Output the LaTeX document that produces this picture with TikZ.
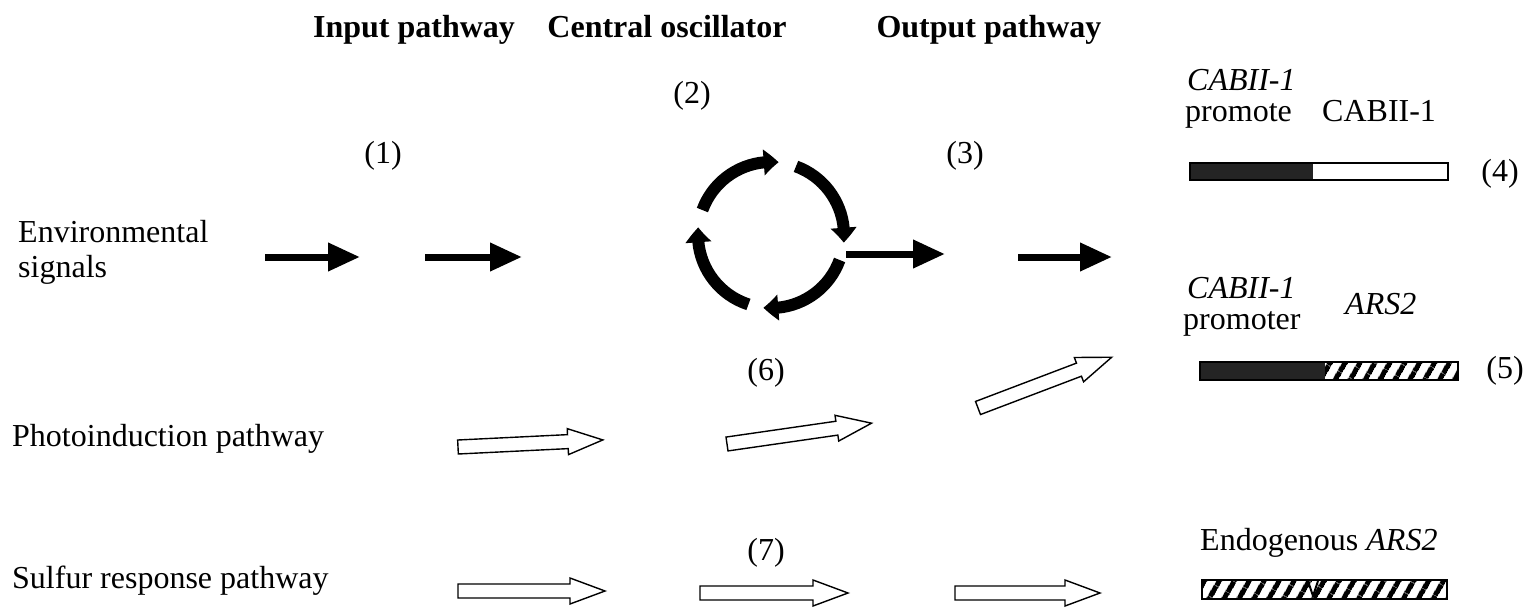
\documentclass[tikz,border=0pt]{standalone}
\usepackage{fontspec}
\setmainfont{Liberation Serif}
\usetikzlibrary{arrows.meta,bending,patterns.meta}
\newcommand\openarrow[3]{% start, angle, length
  \begin{scope}[shift={#1}, rotate=#2]
    \draw[oarr] (0,-7) -- ({#3-35},-7) -- ({#3-35},-13) -- (#3,0) -- ({#3-35},13) -- ({#3-35},7) -- (0,7) -- cycle;
  \end{scope}}
\begin{document}
\begin{tikzpicture}[x=1pt,y=-1pt,
  txt/.style={inner sep=0pt, anchor=base west, font=\fontsize{32}{36}\selectfont},
  hdr/.style={inner sep=0pt, anchor=base, font=\fontsize{32}{36}\selectfont\bfseries},
  num/.style={inner sep=0pt, anchor=base, font=\fontsize{32}{36}\selectfont},
  blk/.style={line width=7pt, -{Triangle[length=32pt,width=27pt]}},
  cyc/.style={line width=12pt, -{Triangle[length=15pt,width=25pt,bend]}},
  oarr/.style={line width=1.4pt, fill=white, line join=miter},
  bar/.style={line width=1.5pt},
  hatch/.style={pattern={Lines[angle=60,distance=13pt,line width=5.5pt]}},
]
\useasboundingbox[fill=white] (0,0) rectangle (1531,610);
% headers
\node[hdr] (h1) at (414,38) {Input pathway};
\node[hdr] (h2) at (667,38) {Central oscillator};
\node[hdr] (h3) at (989,38) {Output pathway};
% numbers
\node[num] (n2) at (692,103) {(2)};
\node[num] (n1) at (383,163) {(1)};
\node[num] (n3) at (965,163) {(3)};
\node[num] (n6) at (766,380) {(6)};
\node[num] (n7) at (766,560) {(7)};
\node[num] (n4) at (1500,181) {(4)};
\node[num] (n5) at (1505,378) {(5)};
% left labels
\node[txt] (env) at (18,242) {Environmental};
\node[txt] (sig) at (18,277) {signals};
\node[txt] (photo) at (12,446) {Photoinduction pathway};
\node[txt] (sulf) at (12,588) {Sulfur response pathway};
% right labels
\node[txt] (c1) at (1187,90) {\itshape CABII-1};
\node[txt] (p1) at (1185,121) {promote};
\node[txt] (g1) at (1322,121) {CABII-1};
\node[txt] (c2) at (1187,298) {\itshape CABII-1};
\node[txt] (p2) at (1183,329) {promoter};
\node[txt] (a2) at (1345,314) {\itshape ARS2};
\node[txt] (endo) at (1200,550) {Endogenous \textit{ARS2}};
% bars
\fill[black!86] (1190,163) rectangle (1313,180);
\draw[bar] (1190,163) rectangle (1448,180);
\fill[black!86] (1200,362) rectangle (1325,380);
\fill[hatch] (1325,362) rectangle (1458,380);
\draw[bar] (1200,362) rectangle (1458,380);
\fill[hatch] (1202,580) rectangle (1447,599);
\draw[bar] (1202,580) rectangle (1447,599);
\draw[line width=2pt] (1308,581) -- (1313,596) -- (1318,581);
% black arrows
\coordinate (a1s) at (265,257); \coordinate (a1e) at (360,257);
\coordinate (a2s) at (425,257); \coordinate (a2e) at (522,257);
\coordinate (a3s) at (846,254); \coordinate (a3e) at (945,254);
\coordinate (a4s) at (1018,257); \coordinate (a4e) at (1112,257);
\draw[blk] (a1s) -- (a1e);
\draw[blk] (a2s) -- (a2e);
\draw[blk] (a3s) -- (a3e);
\draw[blk] (a4s) -- (a4e);
% oscillator
\coordinate (cc) at (771,235);
\draw[cyc] (cc) ++(-160:73) arc[start angle=-160, end angle=-84, radius=73];
\draw[cyc] (cc) ++(-70:73) arc[start angle=-70, end angle=6, radius=73];
\draw[cyc] (cc) ++(20:73) arc[start angle=20, end angle=96, radius=73];
\draw[cyc] (cc) ++(108:73) arc[start angle=108, end angle=186, radius=73];
% open arrows
\openarrow{(458,447)}{2.8}{145}
\openarrow{(727,444)}{8.2}{146}
\openarrow{(978,408)}{20.8}{143}
\openarrow{(458,591)}{0}{147}
\openarrow{(700,593)}{0}{148}
\openarrow{(955,593)}{0}{145}
\end{tikzpicture}
\end{document}
